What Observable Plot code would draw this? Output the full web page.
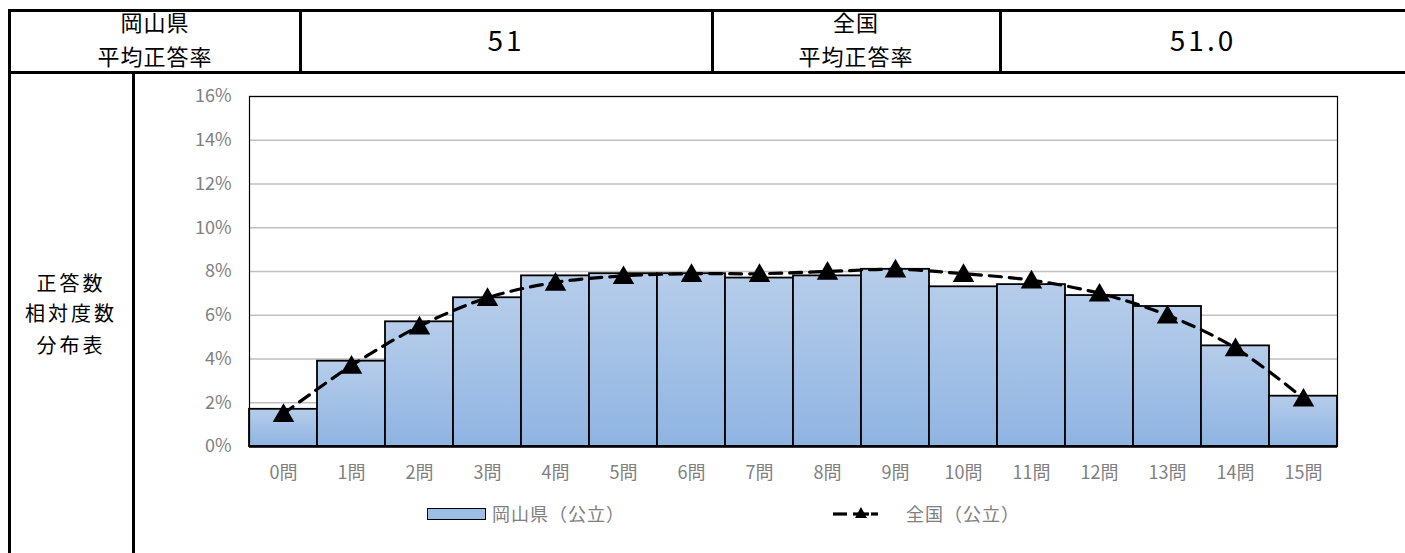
<!DOCTYPE html>
<html><head><meta charset="utf-8">
<script src="https://cdn.jsdelivr.net/npm/d3@7"></script>
<script src="https://cdn.jsdelivr.net/npm/@observablehq/plot@0.6"></script>
<style>
body{margin:0;background:#fff;font-family:"Noto Sans CJK JP","Noto Sans",sans-serif;}
#root{position:relative;width:1405px;height:553px;overflow:hidden;background:#fff;}
.ln{position:absolute;background:#000;}
.t{position:absolute;text-align:center;color:#000;white-space:nowrap;}
#chart{position:absolute;left:135px;top:76px;}
.lg{position:absolute;color:#808080;font-size:18px;line-height:20px;white-space:nowrap;letter-spacing:1px;}
</style></head><body><div id="root"><div id="chart"></div></div>
<script>
const categories = ["0問","1問","2問","3問","4問","5問","6問","7問","8問","9問","10問","11問","12問","13問","14問","15問"];
const okayamaValues = [1.7,3.9,5.7,6.8,7.8,7.9,7.9,7.7,7.8,8.1,7.3,7.4,6.9,6.4,4.6,2.3];
const nationalValues = [1.5,3.7,5.5,6.8,7.5,7.8,7.9,7.9,8.0,8.1,7.9,7.6,7.0,6.0,4.5,2.2];
const yTicks = [0,2,4,6,8,10,12,14,16];
const okayamaLabel = "岡山県（公立）";
const nationalLabel = "全国（公立）";
const okayamaAvgTitle = ["岡山県","平均正答率"];
const okayamaAvg = "51";
const nationalAvgTitle = ["全国","平均正答率"];
const nationalAvg = "51.0";
const sideLabel = ["正答数","相対度数","分布表"];

const root = document.getElementById("root");
function line(x,y,w,h){const d=document.createElement("div");d.className="ln";Object.assign(d.style,{left:x+"px",top:y+"px",width:w+"px",height:h+"px"});root.appendChild(d);}
function text(s,cx,cy,size,cls="t",extra={}){const d=document.createElement("div");d.className=cls;d.textContent=s;Object.assign(d.style,{left:(cx-300)+"px",width:"600px",top:(cy-size*0.7)+"px",fontSize:size+"px",lineHeight:(size*1.4)+"px"},extra);root.appendChild(d);}

// table borders
line(8,9,1397,3);
line(8,71,1397,3);
line(8,9,3,544);
line(299,9,3,64);
line(711,9,3,64);
line(999,9,3,64);
line(132,72,3,481);

text(okayamaAvgTitle[0],155,21,22,"t",{letterSpacing:"1px"});
text(okayamaAvgTitle[1],155,55,22,"t",{letterSpacing:"1px"});
text(okayamaAvg,506,40,28,"t",{letterSpacing:"3px"});
text(nationalAvgTitle[0],856,21,22,"t",{letterSpacing:"1px"});
text(nationalAvgTitle[1],856,55,22,"t",{letterSpacing:"1px"});
text(nationalAvg,1203,40,28,"t",{letterSpacing:"3px"});
text(sideLabel[0],71,283,20,"t",{letterSpacing:"3px"});
text(sideLabel[1],71,313,20,"t",{letterSpacing:"3px"});
text(sideLabel[2],71,345,20,"t",{letterSpacing:"3px"});

const bars = categories.map((c,i)=>({cat:c, v:okayamaValues[i]}));
const pts = categories.map((c,i)=>({cat:c, v:nationalValues[i]}));

const plot = Plot.plot({
  width:1270, height:420,
  marginLeft:114, marginRight:68, marginTop:20, marginBottom:50,
  style:{fontFamily:'"Noto Sans CJK JP","Noto Sans",sans-serif', fontSize:"18px", color:"#808080", background:"transparent"},
  x:{domain:categories, padding:0, label:null, tickSize:0, tickPadding:20},
  y:{domain:[0,16], ticks:yTicks, tickFormat:d=>d+"%", label:null, tickSize:0, tickPadding:18},
  marks:[
    Plot.gridY(yTicks,{stroke:"#bfbfbf", strokeOpacity:1, strokeWidth:1.5}),
    Plot.barY(bars,{x:"cat", y:"v", fill:"url(#barGrad)", stroke:"#000", strokeWidth:1.8}),
    Plot.frame({stroke:"#000", strokeWidth:1.2}),
    Plot.ruleY([0],{stroke:"#000", strokeWidth:2.5}),
    Plot.line(pts,{x:"cat", y:"v", stroke:"#000", strokeWidth:3.2, strokeDasharray:"12,8", curve:"catmull-rom"}),
    Plot.dot(pts,{x:"cat", y:"v", symbol:"triangle", r:8, fill:"#000", stroke:"none", dy:2})
  ]
});
const ns="http://www.w3.org/2000/svg";
const defs=document.createElementNS(ns,"defs");
defs.innerHTML='<linearGradient id="barGrad" x1="0" y1="0" x2="0" y2="1"><stop offset="0" stop-color="#b6cdea"/><stop offset="1" stop-color="#8fb4e2"/></linearGradient>';
plot.insertBefore(defs, plot.firstChild);
document.getElementById("chart").appendChild(plot);

// legend
const sw=document.createElement("div");
Object.assign(sw.style,{position:"absolute",left:"427px",top:"508px",width:"57px",height:"10px",background:"#9cbde6",border:"1.5px solid #000"});
root.appendChild(sw);
const l1=document.createElement("div");l1.className="lg";l1.textContent=okayamaLabel;
Object.assign(l1.style,{left:"492px",top:"503px"});root.appendChild(l1);
const lsvg=document.createElementNS(ns,"svg");
lsvg.setAttribute("width","50");lsvg.setAttribute("height","20");
Object.assign(lsvg.style,{position:"absolute",left:"831px",top:"503px"});
lsvg.innerHTML='<line x1="2" y1="11" x2="16" y2="11" stroke="#000" stroke-width="3.2"/><line x1="22" y1="11" x2="38" y2="11" stroke="#000" stroke-width="3.2"/><line x1="40" y1="11" x2="47" y2="11" stroke="#000" stroke-width="3.2"/><path d="M30,4 L36,15 L24,15 Z" fill="#000"/>';
root.appendChild(lsvg);
const l2=document.createElement("div");l2.className="lg";l2.textContent=nationalLabel;
Object.assign(l2.style,{left:"906px",top:"503px"});root.appendChild(l2);
</script></body></html>
